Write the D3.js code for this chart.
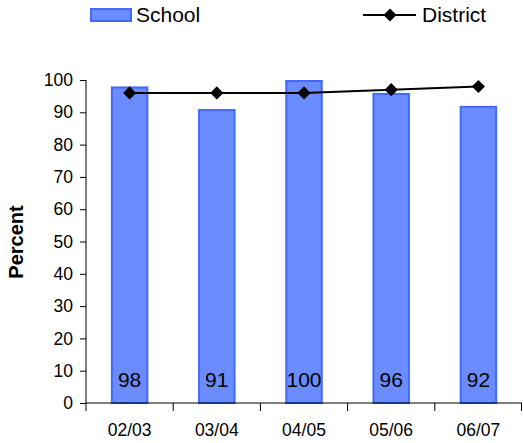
<!DOCTYPE html>
<html><head><meta charset="utf-8">
<script src="https://cdn.jsdelivr.net/npm/d3@7/dist/d3.min.js"></script>
<style>body{margin:0;background:#fff}svg{display:block}text{font-family:"Liberation Sans",Arial,sans-serif}</style>
</head><body><svg id="c" width="523" height="443"></svg>
<script>
const categories = ["02/03","03/04","04/05","05/06","06/07"];
const school = [98,91,100,96,92];
const district = [96,96,96,97,98];
const yTicks = [0,10,20,30,40,50,60,70,80,90,100];

(function(){
const svg = d3.select("#c");
const mLeft = 86, mRight = 522, mTop = 80, mBottom = 403;
const x = d3.scaleBand().domain(categories).range([mLeft, mRight]).paddingInner(0.57).paddingOuter(0.285);
const xb = d3.scaleBand().domain(categories).range([mLeft, mRight]);
const y = d3.scaleLinear().domain([0,100]).range([mBottom, mTop]);

// bars
svg.selectAll("rect.bar").data(school).join("rect")
  .attr("x",(d,i)=>x(categories[i])+1).attr("width",x.bandwidth()-2)
  .attr("y",d=>y(d)+1).attr("height",d=>y(0)-y(d)-1)
  .attr("fill","#6b8cff").attr("stroke","#4268ff").attr("stroke-width",2);

// value labels
svg.selectAll("text.val").data(school).join("text")
  .attr("x",(d,i)=>xb(categories[i])+xb.bandwidth()/2).attr("y",387)
  .attr("text-anchor","middle").attr("font-size",21).attr("fill","#000").text(d=>d);

// y axis
const ya = svg.append("g").attr("transform",`translate(${mLeft},0)`)
  .call(d3.axisLeft(y).tickValues(yTicks).tickSize(6).tickPadding(7));
ya.selectAll("text").attr("font-size",17.5).attr("fill","#000");
ya.select(".domain").attr("stroke","#000").attr("d",`M0,${mTop}V${mBottom}`);
ya.selectAll("line").attr("stroke","#000");

// x axis
const xa = svg.append("g").attr("transform",`translate(0,${mBottom})`);
xa.append("line").attr("x1",mLeft).attr("x2",mRight).attr("stroke","#000");
xa.selectAll("line.t").data(categories).join("line").attr("class","t")
  .attr("x1",d=>xb(d)).attr("x2",d=>xb(d)).attr("y1",0).attr("y2",8).attr("stroke","#000");
xa.append("line").attr("x1",mRight-0.5).attr("x2",mRight-0.5).attr("y1",0).attr("y2",8).attr("stroke","#000");
xa.selectAll("text").data(categories).join("text")
  .attr("x",d=>xb(d)+xb.bandwidth()/2).attr("y",33).attr("text-anchor","middle")
  .attr("font-size",17.5).attr("fill","#000").text(d=>d);

// district line
const cx = (d,i)=>xb(categories[i])+xb.bandwidth()/2;
svg.append("path").datum(district)
  .attr("d", d3.line().x(cx).y(d=>y(d)))
  .attr("fill","none").attr("stroke","#000").attr("stroke-width",2);
const dsym = d3.symbol().type(d3.symbolDiamond2).size(110);
svg.selectAll("path.m").data(district).join("path")
  .attr("transform",(d,i)=>`translate(${cx(d,i)},${y(d)})`)
  .attr("d",dsym).attr("fill","#000");

// y label
svg.append("text").attr("transform","translate(23,242) rotate(-90)")
  .attr("text-anchor","middle").attr("font-size",20).attr("font-weight","bold").text("Percent");

// legend
svg.append("rect").attr("x",91).attr("y",9).attr("width",40).attr("height",12)
  .attr("fill","#6b8cff").attr("stroke","#4268ff").attr("stroke-width",2);
svg.append("text").attr("x",136).attr("y",22).attr("font-size",21).text("School");
svg.append("line").attr("x1",363).attr("x2",416).attr("y1",15).attr("y2",15).attr("stroke","#000").attr("stroke-width",2);
svg.append("path").attr("transform","translate(390,15)").attr("d",dsym).attr("fill","#000");
svg.append("text").attr("x",422).attr("y",22).attr("font-size",21).text("District");
})();
</script></body></html>
